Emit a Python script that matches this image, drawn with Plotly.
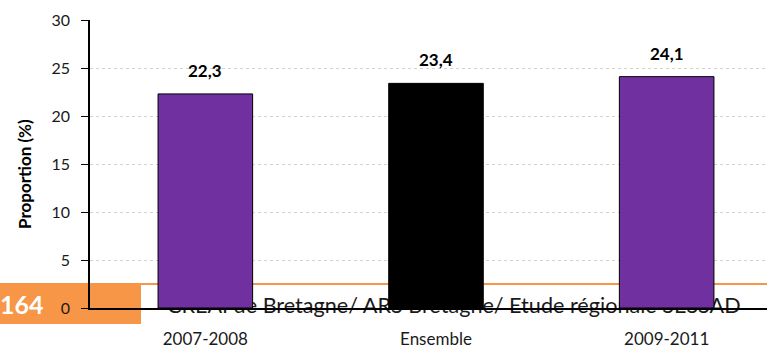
import plotly.graph_objects as go

# Data
categories = ["2007-2008", "Ensemble", "2009-2011"]
proportions = [22.3, 23.4, 24.1]
bar_colors = ["#7030A0", "#000000", "#7030A0"]
y_ticks = [0, 5, 10, 15, 20, 25, 30]

y_title = "Proportion (%)"
page_number = "164"
footer = "CREAI de Bretagne/ ARS Bretagne/ Etude régionale SESSAD"

FONT = "Lato"
W, H = 767, 350
ML, MR, MT, MB = 90, 0, 20, 42
PLOT_W = W - ML - MR
PLOT_H = H - MT - MB


def px_x(p):
    """pixel x -> paper x"""
    return (p - ML) / PLOT_W


def px_y(p):
    """pixel y -> paper y"""
    return (H - MB - p) / PLOT_H


fig = go.Figure()

# footer text lives on the base subplot so the bars sit on top of it
fig.add_trace(go.Scatter(
    x=[167 - ML], y=[0.0], mode="text", text=[footer],
    textposition="middle right",
    textfont=dict(family=FONT, size=21.6, color="#1a1a1a"),
    cliponaxis=False, hoverinfo="skip", showlegend=False,
    xaxis="x", yaxis="y",
))

# bars on the overlaying subplot
fig.add_trace(go.Bar(
    x=categories, y=proportions, width=0.41,
    marker=dict(color=bar_colors, line=dict(color="#000000", width=1)),
    hoverinfo="skip", showlegend=False,
    xaxis="x2", yaxis="y2",
))

# value labels
for c, v in zip(categories, proportions):
    fig.add_annotation(
        x=c, y=v, xref="x2", yref="y2", yanchor="bottom", yshift=11,
        text=f"<b>{v:.1f}</b>".replace(".", ","), showarrow=False,
        font=dict(family=FONT, size=17, color="#000000"),
    )

# y-axis title
fig.add_annotation(
    x=px_x(24), y=px_y(174), xref="paper", yref="paper",
    xanchor="center", yanchor="middle", textangle=-90,
    text=f"<b>{y_title}</b>", showarrow=False,
    font=dict(family=FONT, size=17, color="#000000"),
)

# page number tab
fig.add_shape(type="rect", xref="paper", yref="paper",
              x0=px_x(0), x1=px_x(141), y0=px_y(324), y1=px_y(283),
              fillcolor="#F79646", line=dict(width=0), layer="below")
fig.add_shape(type="line", xref="paper", yref="paper",
              x0=px_x(141), x1=px_x(W), y0=px_y(284), y1=px_y(284),
              line=dict(color="#F79646", width=2), layer="below")
fig.add_annotation(
    x=px_x(22), y=px_y(304), xref="paper", yref="paper",
    xanchor="center", yanchor="middle",
    text=f"<b>{page_number}</b>", showarrow=False,
    font=dict(family=FONT, size=25, color="#ffffff"),
)

fig.update_layout(
    width=W, height=H,
    margin=dict(l=ML, r=MR, t=MT, b=MB, pad=0, autoexpand=False),
    paper_bgcolor="#ffffff", plot_bgcolor="rgba(0,0,0,0)",
    font=dict(family=FONT, color="#1a1a1a"),
    xaxis=dict(range=[0, PLOT_W], visible=False, fixedrange=True,
               automargin=False),
    yaxis=dict(
        range=[0, 30], tickvals=y_ticks, ticks="outside", ticklen=7,
        tickcolor="#000000", showline=True, linecolor="#000000", linewidth=1.5,
        showgrid=True, gridcolor="#d3d3d3", griddash="dot", gridwidth=1,
        zeroline=False, ticklabelstandoff=8, automargin=False,
        tickfont=dict(family=FONT, size=16, color="#1a1a1a"),
    ),
    xaxis2=dict(
        overlaying="x", type="category", range=[-0.5, 2.435],
        showline=True, linecolor="#000000", linewidth=1.5, ticks="",
        ticklabelstandoff=15, showgrid=False, automargin=False,
        tickfont=dict(family=FONT, size=17, color="#1a1a1a"),
    ),
    yaxis2=dict(overlaying="y", range=[0, 30], visible=False,
                automargin=False),
)

fig.write_html("out.html")
